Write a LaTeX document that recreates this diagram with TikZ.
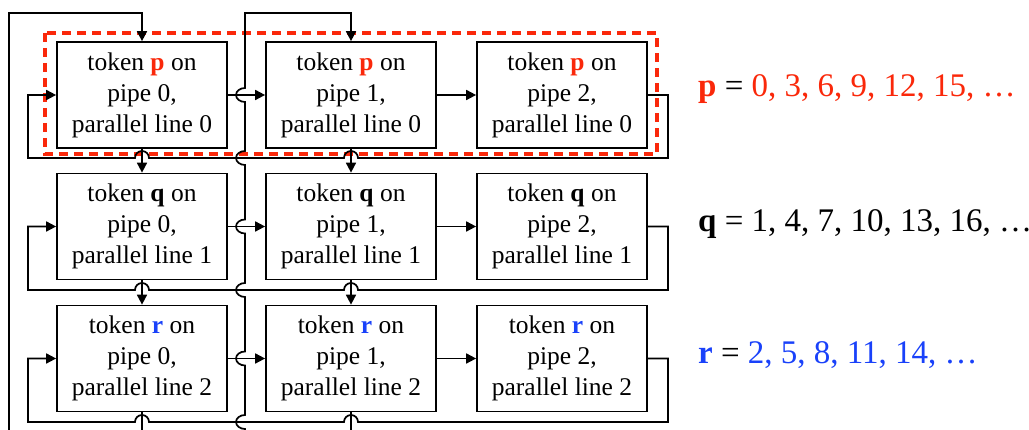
\documentclass[tikz,border=0pt]{standalone}
\usepackage{fontspec}
\setmainfont{Liberation Serif}
\usetikzlibrary{arrows.meta,calc}
\definecolor{tokred}{RGB}{250,40,10}
\definecolor{tokblue}{RGB}{25,65,250}

\begin{document}
\begin{tikzpicture}[x=1pt,y=1pt,
  wire/.style={line width=1.7pt, black},
  flow/.style={wire, -{Triangle[length=10pt,width=10pt]}},
  stage/.style={draw, line width=1.7pt, fill=white, minimum width=170pt,
    minimum height=106pt, inner sep=0pt, align=center,
    font=\fontsize{25.5}{31}\selectfont},
  seq/.style={anchor=base west, inner sep=0pt, font=\fontsize{33}{37}\selectfont},
  group/.style={draw=tokred, line width=3.2pt, dash pattern=on 9pt off 6pt}
]
\useasboundingbox (0,0) rectangle (1029,430);

% group of the first parallel line
\draw[group] (45,397) rectangle (657,276);

% pipeline stages: rows are parallel lines, columns are pipes
\foreach \r/\tc/\tl/\y in {0/tokred/p/335, 1/black/q/203.5, 2/tokblue/r/71.5}
  \foreach \c/\x in {0/142, 1/351, 2/562}
    \node[stage] (b\r\c) at (\x,\y)
      {token \textbf{\textcolor{\tc}{\tl}} on\\pipe \c,\\parallel line \r};

% helper coordinates
\coordinate (floor) at (0,-3);
\coordinate (ret0) at (9,417);
\coordinate (ret1) at (245,417);
\coordinate (L0) at (668,272);
\coordinate (L1) at (668,140);
\coordinate (L2) at (668,8);

% forward arrows along each parallel line
\foreach \r in {0,1,2} {
  \draw[flow] (b\r0.east) -- (b\r1.west);
  \draw[flow] (b\r1.east) -- (b\r2.west);
}

% feedback loop of each parallel line, hopping over the vertical links
\foreach \r in {0,1,2} {
  \draw[flow] (b\r2.east) -| (L\r)
    -- ($(b\r1.south |- L\r)+(7,0)$) arc[start angle=0,end angle=180,radius=7]
    -- ($(b\r0.south |- L\r)+(7,0)$) arc[start angle=0,end angle=180,radius=7]
    -- (28,0 |- L\r) |- (b\r0.west);
}

% vertical links between parallel lines
\foreach \c in {0,1} {
  \draw[flow] (b0\c.south) -- (b1\c.north);
  \draw[flow] (b1\c.south) -- (b2\c.north);
  \draw[wire] (b2\c.south) -- (b2\c.south |- floor);
}

% return into pipe 0 of the first parallel line
\draw[flow] (ret0 |- floor) -- (ret0) -| (b00.north);

% return into pipe 1 of the first parallel line, hopping left over crossings
\draw[flow] (ret1 |- floor)
  foreach \p in {L2,b20.east,L1,b10.east,L0,b00.east} {
    -- ($(ret1 |- \p)+(0,-7)$) arc[start angle=270,end angle=90,x radius=9,y radius=7]
  } -- (ret1) -| (b01.north);

% token sequences
\node[seq] (sp) at (698,333)
  {\textcolor{tokred}{\textbf{p}} = \textcolor{tokred}{0, 3, 6, 9, 12, 15, …}};
\node[seq] (sq) at (698,198) {\textbf{q} = 1, 4, 7, 10, 13, 16, …};
\node[seq] (sr) at (698,66)
  {\textcolor{tokblue}{\textbf{r}} = \textcolor{tokblue}{2, 5, 8, 11, 14, …}};
\end{tikzpicture}
\end{document}
